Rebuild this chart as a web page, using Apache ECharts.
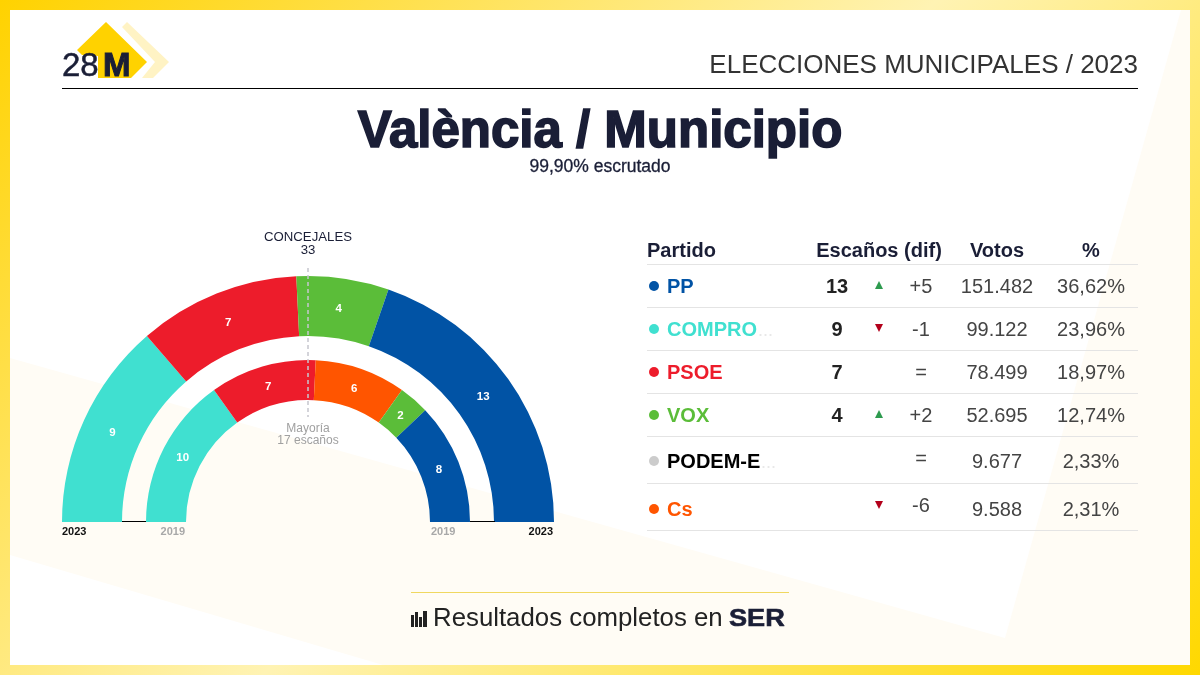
<!DOCTYPE html>
<html>
<head>
<meta charset="utf-8">
<title>València / Municipio</title>
<script src="https://cdn.jsdelivr.net/npm/echarts@6/dist/echarts.min.js"></script>
<style>
  html, body { margin: 0; padding: 0; background: #fff; }
  #chart { width: 1200px; height: 675px; }
</style>
</head>
<body>
<div id="chart"></div>
<script>
// escaños por eleccion, en el orden de los arcos
const parties2023 = ['COMPRO', 'PSOE', 'VOX', 'PP']
const seats2023 = [9, 7, 4, 13]
const parties2019 = ['COMPRO', 'PSOE', 'Cs', 'VOX', 'PP']
const seats2019 = [10, 7, 6, 2, 8]

// tabla
const tableHeaders = ['Partido', 'Escaños (dif)', 'Votos', '%']
const tableParties = ['PP', 'COMPRO', 'PSOE', 'VOX', 'PODEM-E', 'Cs']
const tableSeats = ['13', '9', '7', '4', '', '']
const tableDif = ['+5', '-1', '=', '+2', '=', '-6']
const tableVotes = ['151.482', '99.122', '78.499', '52.695', '9.677', '9.588']
const tablePct = ['36,62%', '23,96%', '18,97%', '12,74%', '2,33%', '2,31%']
const truncated = ['COMPRO', 'PODEM-E']

const partyColor = {
  PP: '#0153a5', COMPRO: '#40e0d0', PSOE: '#ed1c2b',
  VOX: '#5bbd39', 'PODEM-E': '#cccccc', Cs: '#ff5500'
}

const FONT = '"Liberation Sans", Arial, sans-serif'
const NAVY = '#1a1e36'
const cx = 308, cy = 522

const text = (x, y, str, size, color, align, extra) => ({
  type: 'text',
  z: 10,
  ...(extra && extra.el),
  style: {
    x, y, text: str,
    font: `${(extra && extra.weight) || 'normal'} ${size}px ${FONT}`,
    fill: color,
    align: align || 'left',
    verticalAlign: 'middle',
    ...(extra && extra.style)
  }
})
const hline = (x1, x2, y, color) => ({
  type: 'line', z: 10, silent: true,
  shape: { x1, y1: y, x2, y2: y },
  style: { stroke: color, lineWidth: 1 }
})

// fondo
const background = [
  {
    type: 'rect', z: -5, shape: { x: 0, y: 0, width: 1200, height: 675 },
    style: {
      fill: new echarts.graphic.LinearGradient(0, 0, 937, 937, [
        { offset: 0, color: '#ffd200' },
        { offset: 0.5, color: '#fff3b3' },
        { offset: 1, color: '#ffd800' }
      ], true)
    }
  },
  { type: 'rect', z: -4, shape: { x: 10, y: 10, width: 1180, height: 655 }, style: { fill: '#ffffff' } },
  {
    type: 'polygon', z: -3,
    shape: { points: [[10, 358], [1005, 638], [1181, 10], [1190, 10], [1190, 665], [383, 665], [10, 555]] },
    style: { fill: '#fffcf5' }
  }
]

// logo y cabecera
const header = [
  { type: 'polygon', z: 5, shape: { points: [[127, 22], [169, 62], [153, 78], [142, 78], [155, 62], [122, 27]] }, style: { fill: '#fff3c4' } },
  { type: 'polygon', z: 6, shape: { points: [[106, 22], [147, 62], [131, 78], [98, 78], [98, 56], [82, 55], [77, 50]] }, style: { fill: '#ffd200' } },
  text(62, 67, '28', 33, NAVY, 'left', { style: { stroke: NAVY, lineWidth: 0.5 } }),
  text(103, 67, 'M', 33, NAVY, 'left', { weight: 'bold', style: { stroke: NAVY, lineWidth: 1 } }),
  text(1138, 66, 'ELECCIONES MUNICIPALES / 2023', 26, '#333333', 'right'),
  hline(62, 1138, 88.5, '#000000'),
  text(600, 133, 'València / Municipio', 51, NAVY, 'center', { weight: 'bold', style: { stroke: NAVY, lineWidth: 1.6 } }),
  text(600, 167, '99,90% escrutado', 17.5, NAVY, 'center', { style: { stroke: NAVY, lineWidth: 0.3 } })
]

// rotulos del semicirculo
const gaugeText = [
  text(cx, 237, 'CONCEJALES', 13.2, NAVY, 'center'),
  text(cx, 250, '33', 13.2, NAVY, 'center'),
  {
    type: 'line', z: 10, silent: true,
    shape: { x1: cx, y1: 268, x2: cx, y2: 417 },
    style: { stroke: '#c6c6ce', lineWidth: 1.5, lineDash: [4, 3] }
  },
  text(cx, 429, 'Mayoría', 12, '#a0a0a0', 'center'),
  text(cx, 441, '17 escaños', 12, '#a0a0a0', 'center'),
  text(62, 532, '2023', 11, '#111111', 'left', { weight: 'bold' }),
  text(185, 532, '2019', 11, '#a8a8a8', 'right', { weight: 'bold' }),
  text(431, 532, '2019', 11, '#a8a8a8', 'left', { weight: 'bold' }),
  text(553, 532, '2023', 11, '#111111', 'right', { weight: 'bold' }),
  hline(122, 146, 521.5, '#000000'),
  hline(470, 495, 521.5, '#000000')
]

// tabla
const rowY = [287, 330, 373, 416, 462, 510]
const difY = [287, 330, 373, 416, 459, 506]
const arrowY = [285, 328, 0, 414, 0, 505]
const lineY = [264, 307, 350, 393, 436, 483, 530]

const table = [
  text(647, 251, tableHeaders[0], 20, NAVY, 'left', { weight: 'bold' }),
  text(879, 251, tableHeaders[1], 20, NAVY, 'center', { weight: 'bold' }),
  text(997, 251, tableHeaders[2], 20, NAVY, 'center', { weight: 'bold' }),
  text(1091, 251, tableHeaders[3], 20, NAVY, 'center', { weight: 'bold' })
]
lineY.forEach(y => table.push(hline(647, 1138, y + 0.5, '#e4e4e4')))
tableParties.forEach((name, i) => {
  const y = rowY[i]
  const nameColor = name === 'PODEM-E' ? '#000000' : partyColor[name]
  table.push({
    type: 'circle', z: 10,
    shape: { cx: 654, cy: y - 1, r: 5 },
    style: { fill: partyColor[name] }
  })
  table.push(text(667, y, name, 20, nameColor, 'left', { weight: 'bold' }))
  if (truncated.includes(name)) {
    table.push(text(name === 'COMPRO' ? 758 : 761, y + 1, '...', 18, '#e8e8e8', 'left'))
  }
  table.push(text(837, y, tableSeats[i], 20, '#222222', 'center', { weight: 'bold' }))
  const dif = tableDif[i]
  const ay = arrowY[i]
  if (dif[0] === '+') {
    table.push({ type: 'polygon', z: 10, shape: { points: [[879, ay - 4], [883, ay + 4], [875, ay + 4]] }, style: { fill: '#2e9b4f' } })
  } else if (dif[0] === '-') {
    table.push({ type: 'polygon', z: 10, shape: { points: [[875, ay - 4], [883, ay - 4], [879, ay + 4]] }, style: { fill: '#b3001b' } })
  }
  table.push(text(921, difY[i], dif, 20, '#444444', 'center'))
  table.push(text(997, y, tableVotes[i], 20, '#444444', 'center'))
  table.push(text(1091, y, tablePct[i], 20, '#444444', 'center'))
})

// pie de pagina
const footer = [
  hline(411, 789, 592.5, '#f0d860'),
  { type: 'rect', z: 10, shape: { x: 411, y: 615, width: 3, height: 12 }, style: { fill: '#222222' } },
  { type: 'rect', z: 10, shape: { x: 415, y: 612, width: 3, height: 15 }, style: { fill: '#222222' } },
  { type: 'rect', z: 10, shape: { x: 419, y: 617, width: 3, height: 10 }, style: { fill: '#222222' } },
  { type: 'rect', z: 10, shape: { x: 423, y: 611, width: 4, height: 16 }, style: { fill: '#222222' } },
  text(433, 619, 'Resultados completos en', 25.8, '#222222'),
  text(729, 619, 'SER', 24, NAVY, 'left', {
    weight: 'bold',
    el: { x: 729, y: 619, scaleX: 1.13, originX: 0, originY: 0 },
    style: { x: 0, y: 0, stroke: NAVY, lineWidth: 0.6 }
  })
]

const arc = (name, names, values, radius) => {
  const total = values.reduce((a, b) => a + b, 0)
  return {
    type: 'pie',
    name,
    center: [cx, cy],
    radius,
    startAngle: 180,
    endAngle: 0,
    clockwise: true,
    silent: true,
    animation: false,
    avoidLabelOverlap: false,
    label: {
      show: true,
      position: 'inside',
      formatter: '{c}',
      color: '#ffffff',
      fontFamily: FONT,
      fontSize: 11.5,
      fontWeight: 'bold'
    },
    // baja la etiqueta unos px hacia el centro del arco
    labelLayout: params => {
      const before = values.slice(0, params.dataIndex).reduce((a, b) => a + b, 0)
      const mid = (before + values[params.dataIndex] / 2) / total * Math.PI
      return { dx: 4 * Math.cos(mid), dy: 4 * Math.sin(mid) }
    },
    labelLine: { show: false },
    data: names.map((n, i) => ({ name: n, value: values[i], itemStyle: { color: partyColor[n] } }))
  }
}

const chart = echarts.init(document.getElementById('chart'), null, { renderer: 'canvas' })
chart.setOption({
  animation: false,
  graphic: { elements: [...background, ...header, ...gaugeText, ...table, ...footer] },
  series: [
    arc('2023', parties2023, seats2023, [186, 246]),
    arc('2019', parties2019, seats2019, [122, 162])
  ]
})
</script>
</body>
</html>
